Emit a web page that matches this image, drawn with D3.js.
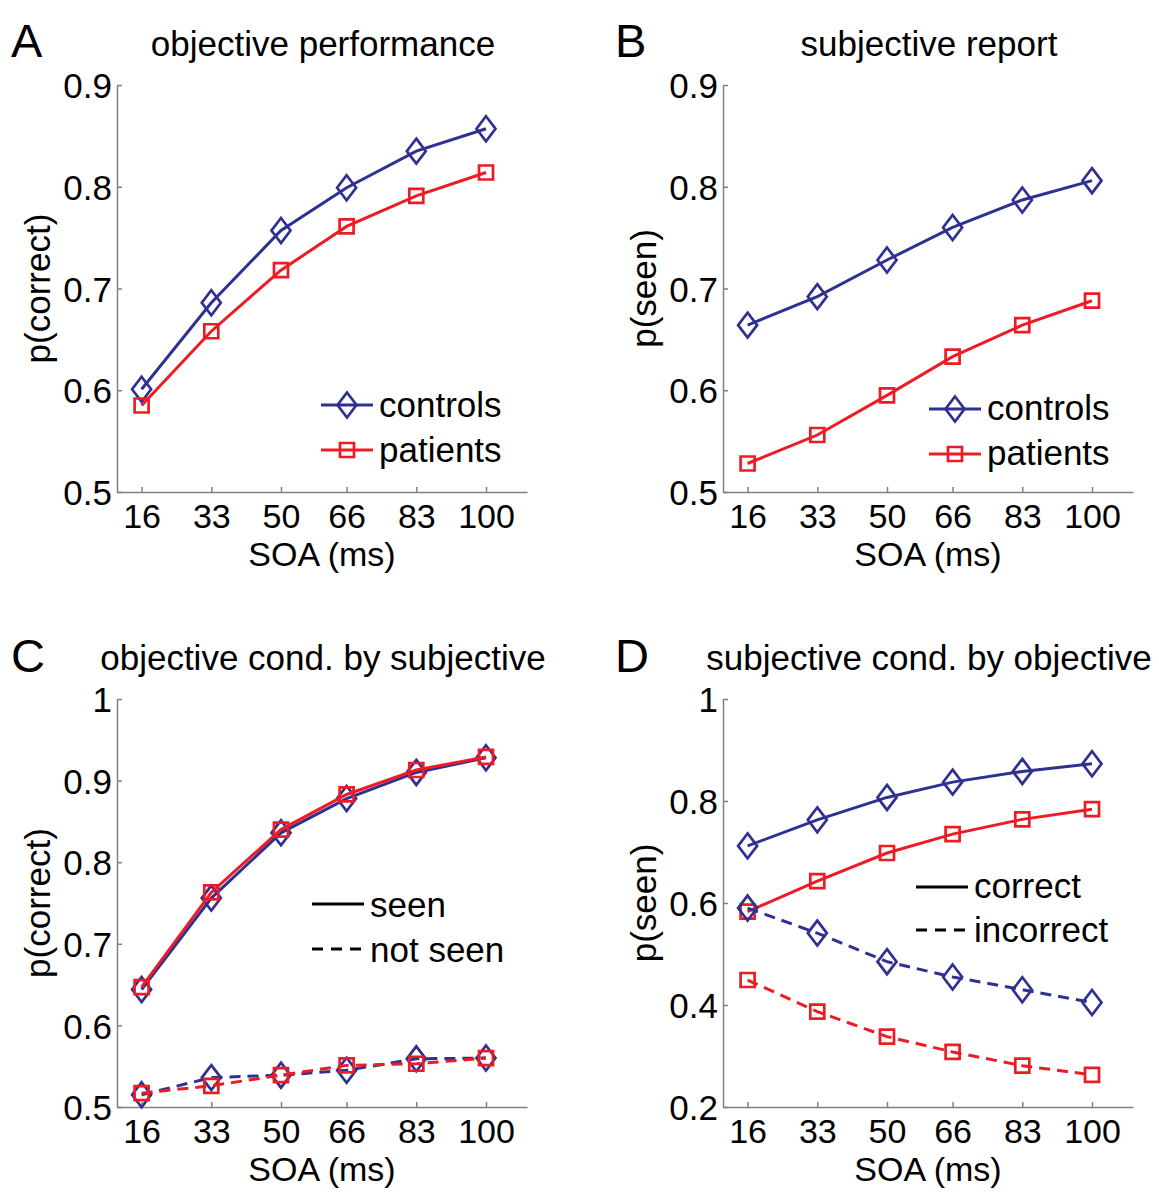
<!DOCTYPE html>
<html><head><meta charset="utf-8">
<script src="https://cdn.jsdelivr.net/npm/d3@7"></script>
<style>
body{margin:0;background:#fff;}
text{font-family:"Liberation Sans",Arial,Helvetica,sans-serif;fill:#000;}
</style></head>
<body><svg id="c" width="1159" height="1195"></svg>
<script>
// ---- data ----
const soa = [16, 33, 50, 66, 83, 100];
const xTickLabels = ["16", "33", "50", "66", "83", "100"];

const aControls = [0.601, 0.686, 0.757, 0.799, 0.835, 0.857];
const aPatients = [0.585, 0.658, 0.718, 0.761, 0.791, 0.814];

const bControls = [0.664, 0.692, 0.728, 0.760, 0.787, 0.806];
const bPatients = [0.528, 0.556, 0.595, 0.633, 0.664, 0.688];

const cSeenControls = [0.644, 0.756, 0.836, 0.878, 0.910, 0.928];
const cSeenPatients = [0.647, 0.763, 0.840, 0.883, 0.913, 0.929];
const cNotSeenControls = [0.515, 0.536, 0.539, 0.545, 0.559, 0.560];
const cNotSeenPatients = [0.517, 0.526, 0.539, 0.551, 0.553, 0.560];

const dCorrectControls = [0.712, 0.763, 0.807, 0.837, 0.858, 0.873];
const dCorrectPatients = [0.583, 0.643, 0.698, 0.735, 0.764, 0.784];
const dIncorrectControls = [0.590, 0.541, 0.485, 0.455, 0.430, 0.405];
const dIncorrectPatients = [0.449, 0.387, 0.338, 0.308, 0.281, 0.263];

const yTicksAB = [0.5, 0.6, 0.7, 0.8, 0.9];
const yTicksC = [0.5, 0.6, 0.7, 0.8, 0.9, 1];
const yTicksD = [0.2, 0.4, 0.6, 0.8, 1];

const titles = ["objective performance", "subjective report", "objective cond. by subjective", "subjective cond. by objective"];
const letters = ["A", "B", "C", "D"];
const yLabels = ["p(correct)", "p(seen)", "p(correct)", "p(seen)"];

// ---- style ----
const BLUE = "#2e3192", RED = "#ed1c24";
const FS = 35, FX = 34;
const svg = d3.select("#c");

function diamondPath(){ return "M0,-12.5L9.5,0L0,12.5L-9.5,0Z"; }
function squarePath(){ return "M-7,-7L7,-7L7,7L-7,7Z"; }

function panel(cfg){
  const g = svg.append("g");
  const x = d3.scaleLinear().domain([10, 110]).range([cfg.left, cfg.left + 410]);
  const y = d3.scaleLinear().domain(cfg.yDomain).range([cfg.bottom, cfg.top]);

  const xAxis = d3.axisBottom(x).tickValues(soa).tickFormat((d,i)=>xTickLabels[i]).tickSizeInner(-5).tickSizeOuter(0).tickPadding(10);
  const gx = g.append("g").attr("transform", `translate(0,${cfg.bottom})`).call(xAxis);
  const yAxis = d3.axisLeft(y).tickValues(cfg.yTicks).tickFormat(d => d === 1 ? "1" : d3.format(".1f")(d)).tickSizeInner(-5).tickSizeOuter(0).tickPadding(5);
  const gy = g.append("g").attr("transform", `translate(${cfg.left},0)`).call(yAxis);
  [gx, gy].forEach(a => {
    a.select(".domain").attr("stroke", "#808080").attr("stroke-width", 1.5);
    a.selectAll(".tick line").attr("stroke", "#808080").attr("stroke-width", 1.5);
    a.selectAll(".tick text").attr("font-family", "Liberation Sans, Arial, sans-serif").attr("fill", "#000");
  });
  gx.selectAll(".tick text").attr("font-size", FX).attr("dy", null).attr("y", 36);
  gy.selectAll(".tick text").attr("font-size", FS).attr("dy", "0.36em");

  g.append("text").attr("x", (x.range()[0] + x.range()[1]) / 2).attr("y", cfg.bottom + 74)
    .attr("text-anchor", "middle").attr("font-size", FX).text("SOA (ms)");
  g.append("text").attr("transform", `translate(${cfg.left - 67},${(cfg.top + cfg.bottom) / 2}) rotate(-90)`)
    .attr("text-anchor", "middle").attr("font-size", FS).text(cfg.yLabel);
  g.append("text").attr("x", (x.range()[0] + x.range()[1]) / 2 + 1).attr("y", cfg.titleY).attr("text-anchor", "middle")
    .attr("font-size", FS).text(cfg.title);
  g.append("text").attr("x", cfg.letterX).attr("y", cfg.letterY).attr("font-size", 47)
    .attr("font-family", "Open Sans, Noto Sans, sans-serif").text(cfg.letter);

  const line = d3.line().x((d,i) => x(soa[i])).y(d => y(d));
  cfg.series.forEach(s => {
    g.append("path").datum(s.values).attr("d", line).attr("fill", "none")
      .attr("stroke", s.color).attr("stroke-width", 3)
      .attr("stroke-dasharray", s.dashed ? "11,7" : null);
    g.selectAll(null).data(s.values).enter().append("path")
      .attr("transform", (d,i) => `translate(${x(soa[i])},${y(d)})`)
      .attr("d", s.marker === "d" ? diamondPath() : squarePath())
      .attr("fill", "none").attr("stroke", s.color).attr("stroke-width", 2.7);
  });

  cfg.legend.forEach(l => {
    g.append("line").attr("x1", l.x).attr("x2", l.x + 52).attr("y1", l.y).attr("y2", l.y)
      .attr("stroke", l.color).attr("stroke-width", 3).attr("stroke-dasharray", l.dashed ? "11,8" : null);
    if (l.marker) {
      g.append("path").attr("transform", `translate(${l.x + 26},${l.y})`)
        .attr("d", l.marker === "d" ? diamondPath() : squarePath())
        .attr("fill", "none").attr("stroke", l.color).attr("stroke-width", 2.7);
    }
    g.append("text").attr("x", l.x + 58).attr("y", l.ty).attr("font-size", FS).text(l.text);
  });
}

panel({left:117, top:85, bottom:492, yDomain:[0.5,0.9], yTicks:yTicksAB, yLabel:yLabels[0],
  title:titles[0], titleY:56, letter:letters[0], letterX:11, letterY:57,
  series:[{values:aControls,color:BLUE,marker:"d"},{values:aPatients,color:RED,marker:"s"}],
  legend:[{x:321,y:405,ty:417,color:BLUE,marker:"d",text:"controls"},{x:321,y:450,ty:462,color:RED,marker:"s",text:"patients"}]});

panel({left:723, top:85, bottom:492, yDomain:[0.5,0.9], yTicks:yTicksAB, yLabel:yLabels[1],
  title:titles[1], titleY:56, letter:letters[1], letterX:615, letterY:57,
  series:[{values:bControls,color:BLUE,marker:"d"},{values:bPatients,color:RED,marker:"s"}],
  legend:[{x:929,y:409,ty:420,color:BLUE,marker:"d",text:"controls"},{x:929,y:454,ty:465,color:RED,marker:"s",text:"patients"}]});

panel({left:117, top:699, bottom:1107, yDomain:[0.5,1], yTicks:yTicksC, yLabel:yLabels[2],
  title:titles[2], titleY:670, letter:letters[2], letterX:11, letterY:672,
  series:[{values:cSeenControls,color:BLUE,marker:"d"},{values:cSeenPatients,color:RED,marker:"s"},
          {values:cNotSeenControls,color:BLUE,marker:"d",dashed:true},{values:cNotSeenPatients,color:RED,marker:"s",dashed:true}],
  legend:[{x:312,y:904,ty:917,color:"#000",text:"seen"},{x:312,y:949,ty:962,color:"#000",dashed:true,text:"not seen"}]});

panel({left:723, top:699, bottom:1107, yDomain:[0.2,1], yTicks:yTicksD, yLabel:yLabels[3],
  title:titles[3], titleY:670, letter:letters[3], letterX:615, letterY:672,
  series:[{values:dCorrectControls,color:BLUE,marker:"d"},{values:dCorrectPatients,color:RED,marker:"s"},
          {values:dIncorrectControls,color:BLUE,marker:"d",dashed:true},{values:dIncorrectPatients,color:RED,marker:"s",dashed:true}],
  legend:[{x:916,y:887,ty:898,color:"#000",text:"correct"},{x:916,y:930,ty:942,color:"#000",dashed:true,text:"incorrect"}]});
</script></body></html>
